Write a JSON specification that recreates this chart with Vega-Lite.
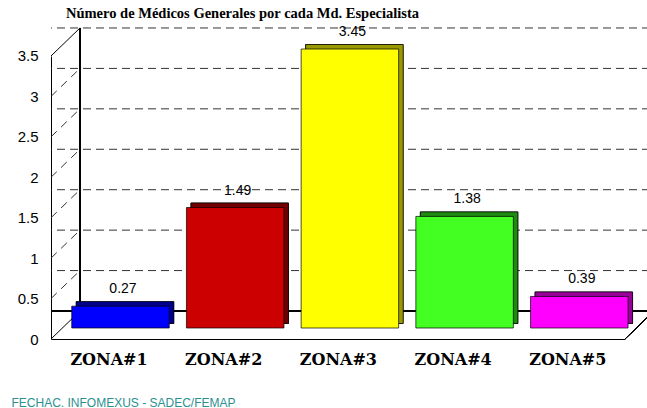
{
  "$schema": "https://vega.github.io/schema/vega-lite/v6.json",
  "width": 596,
  "height": 311,
  "autosize": {"type": "none"},
  "padding": {"left": 51, "top": 28, "right": 0, "bottom": 69},
  "background": "white",
  "config": {"view": {"stroke": null}},
  "title": {
    "text": "Número de Médicos Generales por cada Md. Especialista",
    "font": "Liberation Serif",
    "fontSize": 14.5,
    "fontWeight": "bold",
    "color": "black",
    "anchor": "start",
    "frame": "group",
    "dx": 15,
    "dy": 16,
    "offset": 9,
    "baseline": "alphabetic"
  },
  "datasets": {
    "zonas": [
      {"zona": "ZONA#1", "value": 0.27},
      {"zona": "ZONA#2", "value": 1.49},
      {"zona": "ZONA#3", "value": 3.45},
      {"zona": "ZONA#4", "value": 1.38},
      {"zona": "ZONA#5", "value": 0.39}
    ],
    "ticks": [
      {"v": 0}, {"v": 0.5}, {"v": 1}, {"v": 1.5}, {"v": 2}, {"v": 2.5}, {"v": 3}, {"v": 3.5}
    ]
  },
  "layer": [
    {
      "data": {"name": "zonas"},
      "mark": {"type": "bar", "stroke": "black", "strokeWidth": 0.7, "xOffset": 16, "yOffset": -15.5, "y2Offset": -15.5},
      "encoding": {
        "x": {
          "field": "zona", "type": "nominal", "sort": null,
          "scale": {"paddingInner": 0.15, "paddingOuter": 0.173, "align": 0.233},
          "axis": {
            "title": "FECHAC. INFOMEXUS - SADEC/FEMAP",
            "titleX": -40, "titleY": 67, "titleAlign": "left", "titleAnchor": "start", "titleBaseline": "alphabetic",
            "titleFont": "Liberation Sans", "titleFontSize": 12, "titleFontWeight": "normal", "titleColor": "#2a9090",
            "labelAngle": 0, "labelFont": "DejaVu Serif", "labelFontWeight": "bold", "labelFontSize": 16, "labelColor": "black",
            "labelBaseline": "alphabetic", "labelPadding": 25, "ticks": false, "tickSize": 0, "grid": false,
            "domain": true, "domainColor": "black", "domainWidth": 1, "domainDash": [574, 1000]
          }
        },
        "y": {
          "field": "value", "type": "quantitative",
          "scale": {"domain": [0, 3.846], "nice": false, "zero": false},
          "axis": {
            "title": null, "orient": "left", "values": [0, 0.5, 1, 1.5, 2, 2.5, 3, 3.5], "format": "~g",
            "labelFont": "Liberation Sans", "labelFontSize": 15, "labelColor": "black", "labelPadding": 13,
            "ticks": false, "tickSize": 0, "grid": false,
            "domain": true, "domainColor": "black", "domainWidth": 1, "domainDash": [283, 1000]
          }
        },
        "y2": {"datum": 0},
        "color": {"field": "zona", "type": "nominal", "legend": null, "scale": {"domain": ["ZONA#1", "ZONA#2", "ZONA#3", "ZONA#4", "ZONA#5"], "range": ["#000090", "#700000", "#9a9a00", "#1f8a10", "#990099"]}}
      }
    },
    {
      "data": {"name": "ticks"},
      "mark": {"type": "rule", "color": "black", "strokeWidth": 1, "xOffset": 29, "yOffset": -28},
      "encoding": {
        "y": {"datum": 0, "type": "quantitative", "scale": {"domain": [0, 3.846], "nice": false, "zero": false}, "axis": null}
      }
    },
    {
      "data": {"name": "ticks"},
      "transform": [{"filter": "datum.v > 0"}],
      "mark": {"type": "rule", "color": "#333333", "strokeWidth": 1, "strokeDash": [8, 5], "xOffset": 29, "yOffset": -28},
      "encoding": {
        "y": {"field": "v", "type": "quantitative", "scale": {"domain": [0, 3.846], "nice": false, "zero": false}, "axis": null}
      }
    },
    {
      "data": {"name": "ticks"},
      "mark": {"type": "rule", "color": "black", "strokeWidth": 1, "xOffset": 29, "yOffset": -28, "y2Offset": -28},
      "encoding": {
        "x": {"datum": 0, "type": "quantitative", "scale": {"domain": [0, 1]}, "axis": null},
        "y": {"datum": 0, "type": "quantitative", "scale": {"domain": [0, 3.846], "nice": false, "zero": false}, "axis": null},
        "y2": {"datum": 3.5}
      }
    },
    {
      "data": {"name": "ticks"},
      "transform": [{"filter": "datum.v > 0 && datum.v < 3.5"}],
      "mark": {"type": "rule", "color": "#333333", "strokeWidth": 1, "strokeDash": [8, 6], "x2Offset": 29, "y2Offset": -28},
      "encoding": {
        "x": {"datum": 0, "type": "quantitative", "scale": {"domain": [0, 1]}, "axis": null},
        "x2": {"datum": 0},
        "y": {"field": "v", "type": "quantitative", "scale": {"domain": [0, 3.846], "nice": false, "zero": false}, "axis": null},
        "y2": {"field": "v"}
      }
    },
    {
      "data": {"name": "ticks"},
      "transform": [{"filter": "datum.v == 0 || datum.v == 3.5"}],
      "mark": {"type": "rule", "color": "black", "strokeWidth": 1, "x2Offset": 29, "y2Offset": -28},
      "encoding": {
        "x": {"datum": 0, "type": "quantitative", "scale": {"domain": [0, 1]}, "axis": null},
        "x2": {"datum": 0},
        "y": {"field": "v", "type": "quantitative", "scale": {"domain": [0, 3.846], "nice": false, "zero": false}, "axis": null},
        "y2": {"field": "v"}
      }
    },
    {
      "data": {"name": "ticks"},
      "mark": {"type": "rule", "color": "black", "strokeWidth": 1, "xOffset": -22, "x2Offset": 7, "y2Offset": -28},
      "encoding": {
        "x": {"datum": 1, "type": "quantitative", "scale": {"domain": [0, 1]}, "axis": null},
        "x2": {"datum": 1},
        "y": {"datum": 0, "type": "quantitative", "scale": {"domain": [0, 3.846], "nice": false, "zero": false}, "axis": null},
        "y2": {"datum": 0}
      }
    },
    {
      "data": {"name": "zonas"},
      "mark": {"type": "bar", "stroke": "black", "strokeWidth": 0.7, "xOffset": 16, "yOffset": -15.5, "y2Offset": -15.5},
      "encoding": {
        "x": {"field": "zona", "type": "nominal", "sort": null, "scale": {"paddingInner": 0.15, "paddingOuter": 0.173, "align": 0.233}, "axis": null},
        "y": {"field": "value", "type": "quantitative", "scale": {"domain": [0, 3.846], "nice": false, "zero": false}, "axis": null},
        "y2": {"datum": 0},
        "color": {"field": "zona", "type": "nominal", "legend": null, "scale": {"domain": ["ZONA#1", "ZONA#2", "ZONA#3", "ZONA#4", "ZONA#5"], "range": ["#000090", "#700000", "#9a9a00", "#1f8a10", "#990099"]}}
      }
    },
    {
      "data": {"name": "zonas"},
      "mark": {"type": "bar", "stroke": "black", "strokeWidth": 0.7, "xOffset": 11.5, "yOffset": -11, "y2Offset": -11},
      "encoding": {
        "x": {"field": "zona", "type": "nominal", "sort": null, "scale": {"paddingInner": 0.15, "paddingOuter": 0.173, "align": 0.233}, "axis": null},
        "y": {"field": "value", "type": "quantitative", "scale": {"domain": [0, 3.846], "nice": false, "zero": false}, "axis": null},
        "y2": {"datum": 0},
        "fill": {"field": "zona", "type": "nominal", "legend": null, "scale": {"domain": ["ZONA#1", "ZONA#2", "ZONA#3", "ZONA#4", "ZONA#5"], "range": ["#0000ff", "#cc0000", "#ffff00", "#44ff22", "#ff00ff"]}}
      }
    },
    {
      "data": {"name": "zonas"},
      "mark": {"type": "text", "font": "Liberation Sans", "fontSize": 14, "color": "black", "baseline": "alphabetic", "xOffset": 14, "yOffset": -24},
      "encoding": {
        "x": {"field": "zona", "type": "nominal", "sort": null, "scale": {"type": "point", "padding": 0.598, "align": 0.4227}, "axis": null},
        "y": {"field": "value", "type": "quantitative", "scale": {"domain": [0, 3.846], "nice": false, "zero": false}, "axis": null},
        "text": {"field": "value", "type": "quantitative", "format": ".2f"}
      }
    }
  ],
  "resolve": {"scale": {"x": "independent", "y": "independent"}}
}
